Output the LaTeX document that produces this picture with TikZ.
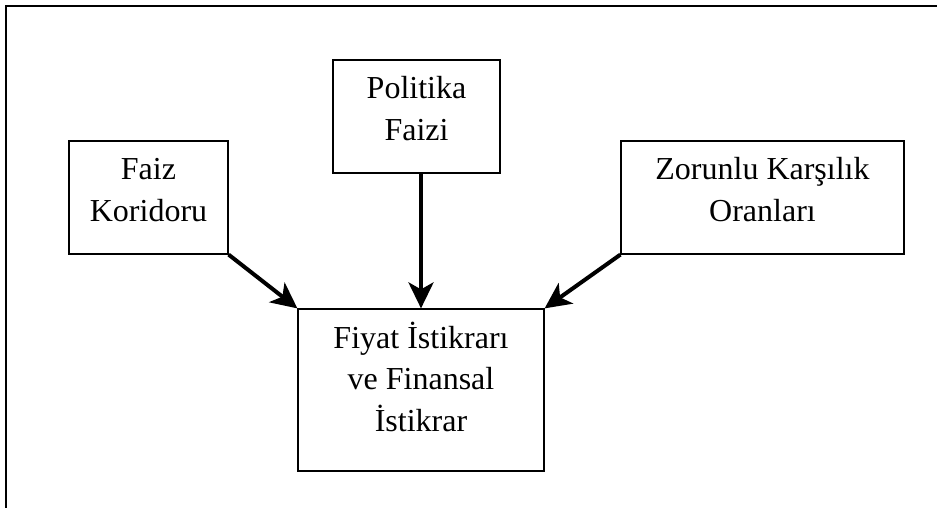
\documentclass[tikz,border=0pt]{standalone}
\usepackage{fontspec}
\setmainfont{Liberation Serif}
\usetikzlibrary{arrows.meta,calc}
\begin{document}
\begin{tikzpicture}[x=1pt,y=-1pt,
  boxnode/.style={draw=black,line width=1.2pt,rectangle,inner sep=0pt},
  lbl/.style={align=center,inner sep=0pt,font=\fontsize{32}{41.5}\selectfont},
  arr/.style={line width=4pt,-{Stealth[length=26pt,width=25pt,inset=7pt]}}]
\useasboundingbox (0,0) rectangle (937,508);
\clip (0,0) rectangle (937,508);
\draw[line width=2.2pt] (6,6) rectangle (960,530);
\node[boxnode,minimum width=159pt,minimum height=113pt] (fk) at (148.5,197.5) {};
\node[boxnode,minimum width=167pt,minimum height=113pt] (pf) at (416.5,116.5) {};
\node[boxnode,minimum width=283pt,minimum height=113pt] (zk) at (762.5,197.5) {};
\node[boxnode,minimum width=246pt,minimum height=162pt] (fi) at (421,390) {};
\node[lbl,anchor=base] (fkt) at ($(fk.north)+(0,80.8)$) {Faiz\\Koridoru};
\node[lbl,anchor=base] (pft) at ($(pf.north)+(0,81)$) {Politika\\Faizi};
\node[lbl,anchor=base] (zkt) at ($(zk.north)+(0,80.8)$) {Zorunlu Karşılık\\Oranları};
\node[lbl,anchor=base] (fit) at ($(fi.north)+(0,122.8)$) {Fiyat İstikrarı\\ve Finansal\\İstikrar};
\draw[arr] (fk.south east) -- (fi.north west);
\draw[arr] (fi.north |- pf.south) -- (fi.north);
\draw[arr] (zk.south west) -- (fi.north east);
\end{tikzpicture}
\end{document}
